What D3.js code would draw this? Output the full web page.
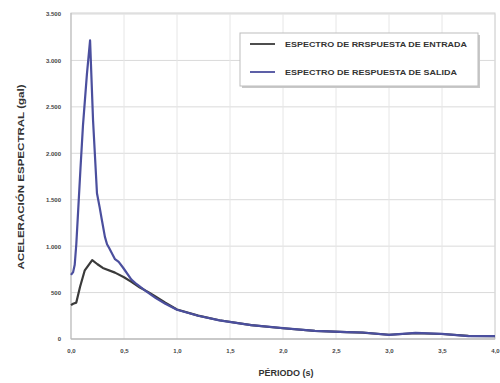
<!DOCTYPE html>
<html><head><meta charset="utf-8">
<script src="https://cdn.jsdelivr.net/npm/d3@7"></script>
<style>body{margin:0;background:#fff}svg{display:block}</style>
</head><body>
<svg id="c" width="500" height="383"></svg>
<script>
const periodsIn = [0,0.02,0.05,0.085,0.13,0.2,0.25,0.3,0.415,0.5,0.57,0.65,0.73,0.8,0.89,1.0,1.2,1.4,1.7,2.0,2.3,2.6,2.75,3.0,3.25,3.5,3.75,4.0];
const entrada   = [365,380,392,560,740,850,805,765,715,665,615,555,505,455,390,318,252,202,150,116,88,74,68,46,62,54,34,30];
const periodsOut = [0,0.02,0.035,0.05,0.066,0.09,0.113,0.15,0.18,0.208,0.245,0.27,0.29,0.32,0.34,0.36,0.415,0.45,0.49,0.57,0.62,0.7,0.8,0.89,1.0,1.2,1.4,1.7,2.0,2.3,2.6,2.75,3.0,3.25,3.5,3.75,4.0];
const salida     = [690,720,800,1020,1350,1850,2300,2850,3215,2355,1570,1420,1290,1100,1020,980,860,830,770,640,590,520,440,380,315,250,200,150,118,88,75,70,45,65,55,32,30];
const yTicks = [0,500,1000,1500,2000,2500,3000,3500];
const yTickLabels = ["0","500","1.000","1.500","2.000","2.500","3.000","3.500"];
const xTicks = [0,0.5,1,1.5,2,2.5,3,3.5,4];
const xTickLabels = ["0,0","0,5","1,0","1,5","2,0","2,5","3,0","3,5","4,0"];
const legendLabels = ["ESPECTRO DE RRSPUESTA DE ENTRADA","ESPECTRO DE RESPUESTA DE SALIDA"];
const colors = ["#3a3a3a","#4b4f9e"];

const svg = d3.select("#c");
const L=71,R=495,T=14,B=339;
const x = d3.scaleLinear().domain([0,4]).range([L,R]);
const y = d3.scaleLinear().domain([0,3500]).range([B,T]);
const font = "'Liberation Sans', Arial, sans-serif";

// gridlines
svg.append("g").selectAll("line").data(yTicks.slice(1)).join("line")
  .attr("x1",L).attr("x2",R).attr("y1",d=>y(d)).attr("y2",d=>y(d))
  .attr("stroke","#dadada").attr("stroke-width",1);
svg.append("g").selectAll("line").data(xTicks.slice(1)).join("line")
  .attr("y1",T).attr("y2",B).attr("x1",d=>x(d)).attr("x2",d=>x(d))
  .attr("stroke","#e6e6e6").attr("stroke-width",1);
// frame
svg.append("rect").attr("x",L).attr("y",T-1).attr("width",R-L).attr("height",B-T+1)
  .attr("fill","none").attr("stroke","#d2d2d2");
svg.append("line").attr("x1",L).attr("x2",R).attr("y1",B).attr("y2",B).attr("stroke","#aaa").attr("stroke-width",1.2);
svg.append("line").attr("x1",L).attr("x2",L).attr("y1",T-1).attr("y2",B).attr("stroke","#bbb");

// axes
const yAxis = d3.axisLeft(y).tickValues(yTicks).tickFormat((d,i)=>yTickLabels[i]).tickSize(0).tickPadding(10);
const gy = svg.append("g").attr("transform",`translate(${L},0)`).call(yAxis);
gy.select(".domain").remove();
gy.selectAll("text").attr("font-family",font).attr("font-weight","bold").attr("font-size",6).attr("fill","#444");

const xAxis = d3.axisBottom(x).tickValues(xTicks).tickFormat((d,i)=>xTickLabels[i]).tickSize(0).tickPadding(10);
const gx = svg.append("g").attr("transform",`translate(0,${B})`).call(xAxis);
gx.select(".domain").remove();
gx.selectAll("text").attr("font-family",font).attr("font-weight","bold").attr("font-size",6).attr("fill","#444");

// lines
const line = d3.line().x(d=>x(d[0])).y(d=>y(d[1])).curve(d3.curveLinear);
svg.append("path").datum(periodsIn.map((p,i)=>[p,entrada[i]])).attr("d",line)
  .attr("fill","none").attr("stroke",colors[0]).attr("stroke-width",2.2).attr("stroke-linejoin","round");
svg.append("path").datum(periodsOut.map((p,i)=>[p,salida[i]])).attr("d",line)
  .attr("fill","none").attr("stroke",colors[1]).attr("stroke-width",2.2).attr("stroke-linejoin","round");

// legend
const lg = svg.append("g");
lg.append("rect").attr("x",242).attr("y",35).attr("width",238).attr("height",53).attr("fill","#c8c8c8");
lg.append("rect").attr("x",240).attr("y",33).attr("width",238).attr("height",53).attr("fill","#fff").attr("stroke","#bdbdbd");
legendLabels.forEach((t,i)=>{
  const yy = 44 + i*28;
  lg.append("line").attr("x1",250).attr("x2",275).attr("y1",yy).attr("y2",yy).attr("stroke",colors[i]).attr("stroke-width",1.8);
  lg.append("text").attr("x",285).attr("y",yy+2.5).text(t)
    .attr("font-family",font).attr("font-weight","bold").attr("font-size",7.5).attr("fill","#333")
    .attr("textLength", i===0?182:172).attr("lengthAdjust","spacingAndGlyphs");
});

// titles
svg.append("text").attr("x",286).attr("y",376).attr("text-anchor","middle").text("PÉRIODO (s)")
  .attr("font-family",font).attr("font-weight","bold").attr("font-size",9).attr("fill","#333");
svg.append("text").attr("transform","translate(24,177) rotate(-90)").attr("text-anchor","middle")
  .text("ACELERACIÓN ESPECTRAL (gal)")
  .attr("font-family",font).attr("font-weight","bold").attr("font-size",8.5).attr("fill","#333")
  .attr("textLength",185).attr("lengthAdjust","spacingAndGlyphs");
</script>
</body></html>
